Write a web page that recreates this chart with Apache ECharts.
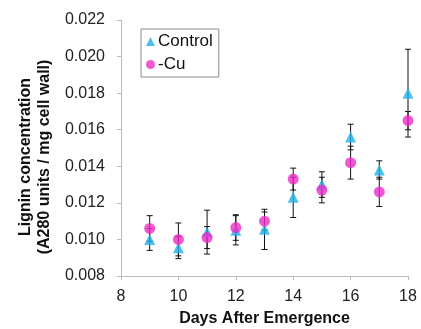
<!DOCTYPE html>
<html>
<head>
<meta charset="utf-8">
<script src="https://cdn.jsdelivr.net/npm/echarts@6/dist/echarts.min.js"></script>
<style>
  html, body { margin: 0; padding: 0; background: #fff; }
  #chart { width: 421px; height: 329px; }
</style>
</head>
<body>
<div id="chart"></div>
<script>
const days = [9, 10, 11, 12, 13, 14, 15, 16, 17, 18];
const control = [0.0100, 0.00955, 0.0104, 0.0105, 0.01055, 0.0123, 0.0130, 0.0156, 0.0138, 0.0180];
const controlErr = [0.0006, 0.0006, 0.0012, 0.0008, 0.0011, 0.0011, 0.0007, 0.0007, 0.0005, 0.0024];
const cu = [0.0106, 0.0100, 0.0101, 0.01065, 0.0110, 0.0133, 0.0127, 0.0142, 0.0126, 0.0165];
const cuErr = [0.0007, 0.0009, 0.0006, 0.0007, 0.0005, 0.0006, 0.0007, 0.0009, 0.0008, 0.0005];

const font = 'Arial, "Liberation Sans", sans-serif';

// [x, low, high] for each error bar
function errData(vals, errs) {
  return days.map((d, i) => [d, vals[i] - errs[i], vals[i] + errs[i]]);
}

function renderErr(params, api) {
  const lo = api.coord([api.value(0), api.value(1)]);
  const hi = api.coord([api.value(0), api.value(2)]);
  const cap = 3;
  const style = { stroke: '#111', lineWidth: 1 };
  return {
    type: 'group',
    children: [
      { type: 'line', shape: { x1: lo[0], y1: lo[1], x2: hi[0], y2: hi[1] }, style },
      { type: 'line', shape: { x1: lo[0] - cap, y1: lo[1], x2: lo[0] + cap, y2: lo[1] }, style },
      { type: 'line', shape: { x1: hi[0] - cap, y1: hi[1], x2: hi[0] + cap, y2: hi[1] }, style }
    ]
  };
}

const chart = echarts.init(document.getElementById('chart'));

chart.setOption({
  animation: false,
  textStyle: { fontFamily: font },
  grid: { left: 121, right: 13, top: 20, bottom: 53, outerBoundsMode: 'none' },
  legend: {
    orient: 'vertical',
    left: 141,
    top: 29,
    padding: [4, 6, 4, 5],
    itemGap: 6,
    itemWidth: 9,
    itemHeight: 9,
    borderColor: '#888',
    borderWidth: 1,
    textStyle: { fontSize: 17, color: '#111', fontFamily: font, padding: [0, 0, 0, -2] },
    data: [
      { name: 'Control', icon: 'triangle' },
      { name: '-Cu', icon: 'circle' }
    ]
  },
  xAxis: {
    type: 'value',
    min: 8,
    max: 18,
    interval: 2,
    name: 'Days After Emergence',
    nameLocation: 'middle',
    nameGap: 35,
    nameTextStyle: { fontSize: 16, fontWeight: 'bold', color: '#111' },
    axisLine: { lineStyle: { color: '#bbb' } },
    axisTick: { show: true, length: 4, lineStyle: { color: '#bbb' } },
    axisLabel: { fontSize: 16, color: '#222', margin: 13 },
    splitLine: { show: false }
  },
  yAxis: {
    type: 'value',
    min: 0.008,
    max: 0.022,
    interval: 0.002,
    name: 'Lignin concentration\n(A280 units / mg cell wall)',
    nameLocation: 'middle',
    nameGap: 64,
    nameTextStyle: { fontSize: 16, fontWeight: 'bold', color: '#111', lineHeight: 19, padding: [0, 18, 0, 0] },
    axisLine: { show: true, lineStyle: { color: '#bbb' } },
    axisTick: { show: true, length: 4, lineStyle: { color: '#bbb' } },
    axisLabel: {
      fontSize: 16,
      color: '#222',
      margin: 16,
      formatter: v => v.toFixed(3)
    },
    splitLine: { show: false }
  },
  series: [
    {
      type: 'custom',
      name: 'controlErr',
      renderItem: renderErr,
      data: errData(control, controlErr),
      z: 1,
      silent: true
    },
    {
      type: 'custom',
      name: 'cuErr',
      renderItem: renderErr,
      data: errData(cu, cuErr),
      z: 1,
      silent: true
    },
    {
      name: 'Control',
      type: 'scatter',
      symbol: 'triangle',
      symbolSize: 11,
      itemStyle: { color: '#1fb2ec' },
      data: days.map((d, i) => [d, control[i]]),
      z: 3
    },
    {
      name: '-Cu',
      type: 'scatter',
      symbol: 'circle',
      symbolSize: 11,
      itemStyle: { color: '#ee2cc8' },
      data: days.map((d, i) => [d, cu[i]]),
      z: 4
    }
  ]
});
</script>
</body>
</html>
